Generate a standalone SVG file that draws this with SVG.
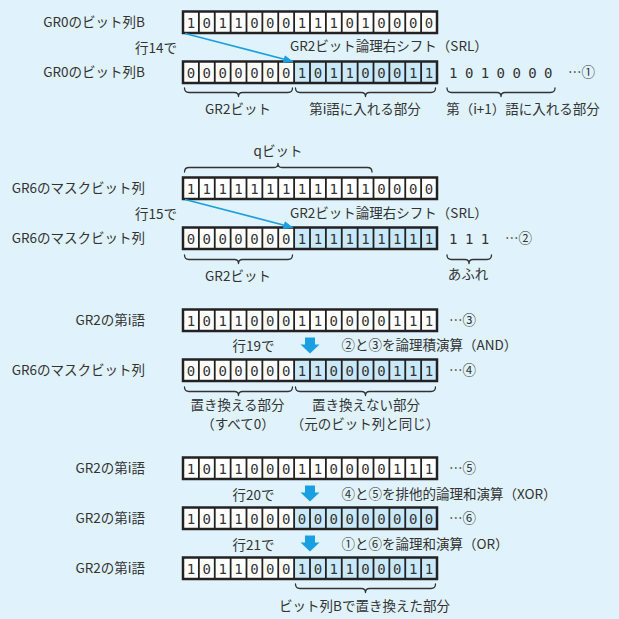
<svg xmlns="http://www.w3.org/2000/svg" xmlns:xlink="http://www.w3.org/1999/xlink" width="619" height="619" viewBox="0 0 619 619">
<style>
.lbl{font-family:"Noto Sans CJK JP","Noto Sans",sans-serif;font-size:13.5px;fill:#333}
.end{text-anchor:end}
.mid{text-anchor:middle}
.bits{font-family:"DejaVu Sans Mono","Liberation Mono",monospace;font-size:14px;fill:#333;text-anchor:middle}
.cellbg{fill:#fff}
.hl{fill:#c9e8f9}
.div{stroke:#222;stroke-width:1.8;fill:none}
.outer{stroke:#222;stroke-width:2.5;fill:none}
.brace{stroke:#333;stroke-width:1.3;fill:none;stroke-linecap:round;stroke-linejoin:round}
.diag{stroke:#1a9fe3;stroke-width:1.6;fill:none}
.down{fill:#1a9fe3}
</style>
<defs>
<marker id="ah" markerUnits="userSpaceOnUse" markerWidth="10" markerHeight="8" refX="9.5" refY="4" orient="auto">
<path d="M0,0 L9.5,4 L0,8 z" fill="#1a9fe3"/>
</marker>
<g id="frame">
<path class="div" d="M198.875 0V21.5M214.75 0V21.5M230.625 0V21.5M246.5 0V21.5M262.375 0V21.5M278.25 0V21.5M294.125 0V21.5M310 0V21.5M325.875 0V21.5M341.75 0V21.5M357.625 0V21.5M373.5 0V21.5M389.375 0V21.5M405.25 0V21.5M421.125 0V21.5"/>
<rect class="outer" x="183" y="0" width="254" height="21.5"/>
</g>
<path id="dn" class="down" d="M-5,0 H5 V7 H9.5 L0,16 L-9.5,7 H-5 Z"/>
</defs>
<rect width="619" height="619" fill="#e0f2fc"/>

<g id="r1" transform="translate(0,11.5)">
<rect class="cellbg" x="183" width="254" height="21.5"/>
<use href="#frame"/>
<text class="bits" x="190.94 206.81 222.69 238.56 254.44 270.31 286.19 302.06 317.94 333.81 349.69 365.56 381.44 397.31 413.19 429.06" y="16">1011000111010000</text>
</g>
<g id="r2" transform="translate(0,61.5)">
<rect class="cellbg" x="183" width="254" height="21.5"/>
<rect class="hl" x="294.125" width="142.875" height="21.5"/>
<use href="#frame"/>
<text class="bits" x="190.94 206.81 222.69 238.56 254.44 270.31 286.19 302.06 317.94 333.81 349.69 365.56 381.44 397.31 413.19 429.06" y="16">0000000101100011</text>
<text class="bits" x="453.3 469.1 485 500.8 516.6 532.5 548.3" y="16">1010000</text>
</g>
<g id="r3" transform="translate(0,177.5)">
<rect class="cellbg" x="183" width="254" height="21.5"/>
<use href="#frame"/>
<text class="bits" x="190.94 206.81 222.69 238.56 254.44 270.31 286.19 302.06 317.94 333.81 349.69 365.56 381.44 397.31 413.19 429.06" y="16">1111111111110000</text>
</g>
<g id="r4" transform="translate(0,227.5)">
<rect class="cellbg" x="183" width="254" height="21.5"/>
<rect class="hl" x="294.125" width="142.875" height="21.5"/>
<use href="#frame"/>
<text class="bits" x="190.94 206.81 222.69 238.56 254.44 270.31 286.19 302.06 317.94 333.81 349.69 365.56 381.44 397.31 413.19 429.06" y="16">0000000111111111</text>
<text class="bits" x="453.3 469.1 485" y="16">111</text>
</g>
<g id="r5" transform="translate(0,309.5)">
<rect class="cellbg" x="183" width="254" height="21.5"/>
<use href="#frame"/>
<text class="bits" x="190.94 206.81 222.69 238.56 254.44 270.31 286.19 302.06 317.94 333.81 349.69 365.56 381.44 397.31 413.19 429.06" y="16">1011000110000111</text>
</g>
<g id="r6" transform="translate(0,359.5)">
<rect class="cellbg" x="183" width="254" height="21.5"/>
<rect class="hl" x="294.125" width="142.875" height="21.5"/>
<use href="#frame"/>
<text class="bits" x="190.94 206.81 222.69 238.56 254.44 270.31 286.19 302.06 317.94 333.81 349.69 365.56 381.44 397.31 413.19 429.06" y="16">0000000110000111</text>
</g>
<g id="r7" transform="translate(0,457.5)">
<rect class="cellbg" x="183" width="254" height="21.5"/>
<use href="#frame"/>
<text class="bits" x="190.94 206.81 222.69 238.56 254.44 270.31 286.19 302.06 317.94 333.81 349.69 365.56 381.44 397.31 413.19 429.06" y="16">1011000110000111</text>
</g>
<g id="r8" transform="translate(0,507.5)">
<rect class="cellbg" x="183" width="254" height="21.5"/>
<rect class="hl" x="294.125" width="142.875" height="21.5"/>
<use href="#frame"/>
<text class="bits" x="190.94 206.81 222.69 238.56 254.44 270.31 286.19 302.06 317.94 333.81 349.69 365.56 381.44 397.31 413.19 429.06" y="16">1011000000000000</text>
</g>
<g id="r9" transform="translate(0,557.5)">
<rect class="cellbg" x="183" width="254" height="21.5"/>
<rect class="hl" x="294.125" width="142.875" height="21.5"/>
<use href="#frame"/>
<text class="bits" x="190.94 206.81 222.69 238.56 254.44 270.31 286.19 302.06 317.94 333.81 349.69 365.56 381.44 397.31 413.19 429.06" y="16">1011000101100011</text>
</g>

<g id="row-labels" class="lbl">
<text class="lbl end" x="145" y="27">GR0のビット列B</text>
<text class="lbl end" x="145" y="76.5">GR0のビット列B</text>
<text class="lbl end" x="145" y="193">GR6のマスクビット列</text>
<text class="lbl end" x="145" y="242.5">GR6のマスクビット列</text>
<text class="lbl end" x="145" y="324.5">GR2の第i語</text>
<text class="lbl end" x="145" y="374.5">GR6のマスクビット列</text>
<text class="lbl end" x="145" y="473">GR2の第i語</text>
<text class="lbl end" x="145" y="522.5">GR2の第i語</text>
<text class="lbl end" x="145" y="572.5">GR2の第i語</text>
</g>

<g id="step-labels">
<text class="lbl end" x="177" y="53">行14で</text>
<text class="lbl" x="290" y="51">GR2ビット論理右シフト（SRL）</text>
<text class="lbl end" x="177" y="218.5">行15で</text>
<text class="lbl" x="290" y="217.5">GR2ビット論理右シフト（SRL）</text>
<text class="lbl mid" x="253.5" y="351">行19で</text>
<text class="lbl" x="341.5" y="350">②と③を論理積演算（AND）</text>
<text class="lbl mid" x="253.5" y="499.5">行20で</text>
<text class="lbl" x="341.5" y="498.5">④と⑤を排他的論理和演算（XOR）</text>
<text class="lbl mid" x="253.5" y="549.5">行21で</text>
<text class="lbl" x="341.5" y="548.5">①と⑥を論理和演算（OR）</text>
</g>

<g id="refs">
<text class="lbl" x="568" y="76.5">…①</text>
<text class="lbl" x="505" y="242.5">…②</text>
<text class="lbl" x="449" y="324.5">…③</text>
<text class="lbl" x="449" y="374.5">…④</text>
<text class="lbl" x="449" y="473">…⑤</text>
<text class="lbl" x="449" y="523">…⑥</text>
</g>

<g id="braces">
<path class="brace" d="M184.5 88 q0 4.5 4.5 4.5 H234.5 q4 0 4 4 q0 -4 4 -4 H288 q4.5 0 4.5 -4.5"/>
<path class="brace" d="M295.5 88 q0 4.5 4.5 4.5 H361.5 q4 0 4 4 q0 -4 4 -4 H431 q4.5 0 4.5 -4.5"/>
<path class="brace" d="M447 88 q0 4.5 4.5 4.5 H497 q4 0 4 4 q0 -4 4 -4 H550.5 q4.5 0 4.5 -4.5"/>
<path class="brace" d="M184.5 172 q0 -4.5 4.5 -4.5 H274 q4 0 4 -4 q0 4 4 4 H367.5 q4.5 0 4.5 4.5"/>
<path class="brace" d="M184.5 255 q0 4.5 4.5 4.5 H234.5 q4 0 4 4 q0 -4 4 -4 H288 q4.5 0 4.5 -4.5"/>
<path class="brace" d="M447 255 q0 4.5 4.5 4.5 H465 q4 0 4 4 q0 -4 4 -4 H487 q4.5 0 4.5 -4.5"/>
<path class="brace" d="M184.5 387 q0 4.5 4.5 4.5 H234.5 q4 0 4 4 q0 -4 4 -4 H288 q4.5 0 4.5 -4.5"/>
<path class="brace" d="M295.5 387 q0 4.5 4.5 4.5 H361.5 q4 0 4 4 q0 -4 4 -4 H431 q4.5 0 4.5 -4.5"/>
<path class="brace" d="M295.5 584 q0 4.5 4.5 4.5 H361.5 q4 0 4 4 q0 -4 4 -4 H431 q4.5 0 4.5 -4.5"/>
</g>

<g id="brace-labels">
<text class="lbl mid" x="238" y="113.5">GR2ビット</text>
<text class="lbl mid" x="365" y="113.5">第i語に入れる部分</text>
<text class="lbl mid" x="523" y="113.5">第（i+1）語に入れる部分</text>
<text class="lbl mid" x="278" y="156">qビット</text>
<text class="lbl mid" x="238" y="280.5">GR2ビット</text>
<text class="lbl mid" x="468" y="279">あふれ</text>
<text class="lbl mid" x="237.5" y="410">置き換える部分</text>
<text class="lbl mid" x="238" y="429">（すべて0）</text>
<text class="lbl mid" x="366" y="410">置き換えない部分</text>
<text class="lbl mid" x="365" y="429">（元のビット列と同じ）</text>
<text class="lbl mid" x="364.5" y="611">ビット列Bで置き換えた部分</text>
</g>

<g id="connectors">
<line class="diag" x1="185" y1="33.5" x2="293" y2="61.5" marker-end="url(#ah)"/>
<line class="diag" x1="185" y1="199.5" x2="293" y2="227.5" marker-end="url(#ah)"/>
<use href="#dn" x="310" y="337.5"/>
<use href="#dn" x="310" y="485.5"/>
<use href="#dn" x="310" y="535.5"/>
</g>
</svg>
